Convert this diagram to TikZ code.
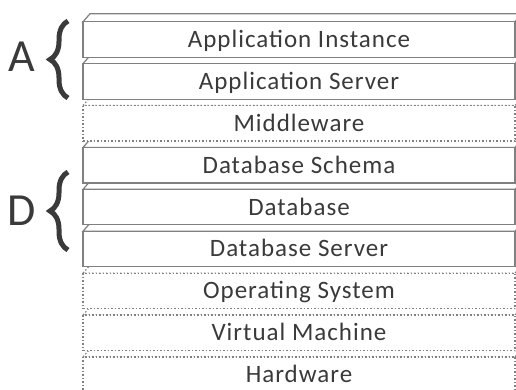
\documentclass[tikz,border=0pt]{standalone}
\usepackage{fontspec}
\setmainfont{Carlito}[LetterSpace=4]
\usepackage{tikz}
\usetikzlibrary{positioning,backgrounds,decorations.pathreplacing}
\definecolor{edgegray}{RGB}{128,128,128}
\definecolor{inkgray}{RGB}{58,58,58}

\tikzset{
	layer/.style={draw=edgegray, line width=1.2pt, fill=white, minimum width=432pt, minimum height=35.5pt,
		inner sep=0pt, outer sep=0pt, text=inkgray, text height=16pt, text depth=0pt, font=\fontsize{25}{29}\selectfont},
	softlayer/.style={layer, line width=1.2pt, dash pattern=on 1.5pt off 2pt},
	face/.style={draw=edgegray, line width=1.2pt, fill=white},
	softface/.style={face, line width=1.2pt, dash pattern=on 1.5pt off 2pt},
	biglabel/.style={text=inkgray, inner sep=0pt, font=\fontsize{46}{50}\selectfont},
	curly/.style={draw=inkgray, line width=5pt, decorate, decoration={brace, amplitude=18pt, aspect=0.5}}
}

\begin{document}
\begin{tikzpicture}[x=1pt,y=1pt,node distance=6.4pt]
	\useasboundingbox (0,0) rectangle (516,390);
	\clip (0,0) rectangle (516,390);

	% stack of layers, top to bottom
	\node[layer] (ai) at (299,350.5) {Application Instance};
	\node[layer,below=of ai] (as) {Application Server};
	\node[softlayer,below=of as] (mw) {Middleware};
	\node[layer,below=of mw] (ds) {Database Schema};
	\node[layer,below=of ds] (db) {Database};
	\node[layer,below=of db] (dbs) {Database Server};
	\node[softlayer,below=of dbs] (os) {Operating System};
	\node[softlayer,below=of os] (vm) {Virtual Machine};
	\node[softlayer,below=of vm] (hw) {Hardware};

	% top faces behind the fronts
	\begin{pgfonlayer}{background}
		\foreach \n in {hw,vm,os,mw}
			\draw[softface] (\n.north west) -- ++(7,8) -- ([shift={(7,8)}]\n.north east) -- (\n.north east) -- cycle;
		\foreach \n in {dbs,db,ds,as,ai}
			\draw[face] (\n.north west) -- ++(7,8) -- ([shift={(7,8)}]\n.north east) -- (\n.north east) -- cycle;
	\end{pgfonlayer}

	% groups
	\draw[curly] (68,292) -- (68,369);
	\node[biglabel] (lblA) at (22,333) {A};
	\draw[curly] (68,140) -- (68,218);
	\node[biglabel] (lblD) at (22,179) {D};
\end{tikzpicture}
\end{document}
